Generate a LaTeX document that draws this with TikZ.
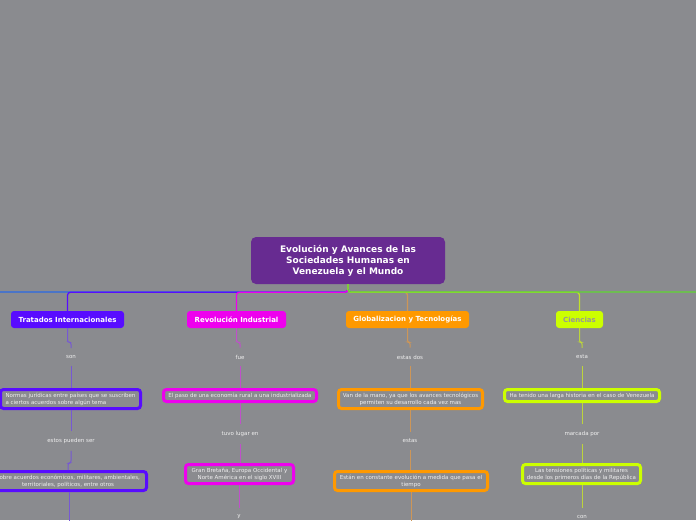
\documentclass[tikz,border=0pt]{standalone}
\usepackage{fontspec}
\setmainfont{DejaVu Sans}
\usetikzlibrary{calc}
\definecolor{bg}{RGB}{138,139,143}
\definecolor{cpurple}{RGB}{103,43,145}
\definecolor{cviolet}{RGB}{88,12,255}
\definecolor{cmag}{RGB}{238,0,238}
\definecolor{corange}{RGB}{255,153,0}
\definecolor{cyel}{RGB}{204,255,0}
\definecolor{cblue}{RGB}{40,105,230}
\definecolor{cgreen}{RGB}{95,215,50}
\definecolor{lviolet}{RGB}{118,88,212}
\definecolor{lmag}{RGB}{192,80,202}
\definecolor{lorange}{RGB}{205,150,88}
\definecolor{lyel}{RGB}{188,212,60}
\definecolor{ctxt}{RGB}{240,240,240}
\definecolor{cgraytxt}{RGB}{150,150,152}
\begin{document}
\begin{tikzpicture}[x=1pt,y=-1pt,
  central/.style={fill=cpurple, rounded corners=5pt, text=white, font=\bfseries\fontsize{9}{11}\selectfont, align=center, minimum width=194pt, minimum height=47pt, inner sep=0pt},
  topic/.style={rounded corners=3pt, text=white, font=\bfseries\fontsize{7}{8}\selectfont, minimum height=17pt, inner sep=0pt},
  sub/.style={draw, line width=3pt, rounded corners=3pt, fill=bg, text=ctxt, font=\fontsize{5.5}{7}\selectfont, align=center, inner sep=0pt},
  lbl/.style={text=ctxt, font=\fontsize{5.5}{7}\selectfont, inner xsep=2pt, inner ysep=7pt},
  hline/.style={line width=1.3pt, rounded corners=3pt},
  conn/.style={line width=1pt, rounded corners=2pt}
]
\fill[bg] (0,0) rectangle (696,520);
\useasboundingbox (0,0) rectangle (696,520);

% central node
\node[central] (c) at (348,260.5) {Evolución y Avances de las\\Sociedades Humanas en\\ Venezuela y el Mundo};

% topics
\node[topic, fill=cviolet, minimum width=113pt] (trat) at (67.5,319.5) {Tratados Internacionales};
\node[topic, fill=cmag, minimum width=99pt] (rev) at (236.5,319.5) {Revolución Industrial};
\node[topic, fill=corange, minimum width=123pt] (glob) at (407.5,319.5) {Globalizacion y Tecnologías};
\node[topic, fill=cyel, text=cgraytxt, minimum width=47pt] (cien) at (579.5,319.5) {Ciencias};

\coordinate (offL) at (-10,292);
\coordinate (offR) at (706,292);

% main branch lines
\draw[hline, cblue] (c.south) |- (offL);
\draw[hline, cviolet] (c.south) -- ++(0,8) -| (trat.north);
\draw[hline, cmag] (c.south) -- ++(0,8) -| (rev.north);
\draw[hline, lorange] (c.south) -- ++(0,8) -| (glob.north);
\draw[hline, lyel!70!cyel] (c.south) -- ++(0,8) -| (cien.north);
\draw[hline, cgreen] (c.south) |- (offR);

% level labels 1
\node[lbl] (son) at (71,357) {son};
\node[lbl] (fue) at (240,357) {fue};
\node[lbl] (dos) at (410,357) {estas dos};
\node[lbl] (esta) at (582,357) {esta};

% level 2 boxes
\node[sub, draw=cviolet, align=left, minimum width=140pt, minimum height=19pt] (normas) at (70.5,399) {Normas jurídicas entre países que se suscriben\\a ciertos acuerdos sobre algún tema};
\node[sub, draw=cmag, minimum width=153pt, minimum height=12pt] (paso) at (240,395.5) {El paso de una economía rural a una industrializada};
\node[sub, draw=corange, minimum width=144pt, minimum height=19pt] (van) at (410.5,399) {Van de la mano, ya que los avances tecnológicos\\permiten su desarrollo cada vez mas};
\node[sub, draw=cyel, minimum width=155pt, minimum height=12pt] (ha) at (582,395.5) {Ha tenido una larga historia en el caso de Venezuela};

% level labels 2
\node[lbl] (estos) at (71,441) {estos pueden ser};
\node[lbl] (tuvo) at (240,434) {tuvo lugar en};
\node[lbl] (estas) at (410,441) {estas};
\node[lbl] (marc) at (582,434) {marcada por};

% level 3 boxes
\node[sub, draw=cviolet, minimum width=157pt, minimum height=19pt] (sobre) at (68,481) {Sobre acuerdos económicos, militares, ambientales,\\territoriales, políticos, entre otros};
\node[sub, draw=cmag, minimum width=108pt, minimum height=19pt] (gran) at (239.5,474) {Gran Bretaña, Europa Occidental y\\Norte América en el siglo XVIII};
\node[sub, draw=corange, minimum width=153pt, minimum height=19pt] (estan) at (411,481) {Están en constante evolución a medida que pasa el\\tiempo};
\node[sub, draw=cyel, minimum width=118pt, minimum height=19pt] (tens) at (581.5,474) {Las tensiones políticas y militares\\desde los primeros días de la República};

% level labels 3
\node[lbl] (y) at (239,517) {y};
\node[lbl] (con) at (582,517) {con};

\coordinate (endA) at (69,530);
\coordinate (endB) at (411,530);

% Tratados branch
\draw[conn, lviolet] (trat.south) -- ++(0,14) -| (son.north);
\draw[conn, lviolet] (son.south) -- (son.south |- normas.north);
\draw[conn, lviolet] (normas.south -| estos.north) -- (estos.north);
\draw[conn, lviolet] (estos.south) |- ($(sobre.north)+(0,-7)$) -- (sobre.north);
\draw[conn, lviolet] (sobre.south -| endA) -- (endA);

% Revolucion branch
\draw[conn, lmag] (rev.south) -- ++(0,14) -| (fue.north);
\draw[conn, lmag] (fue.south) -- (fue.south |- paso.north);
\draw[conn, lmag] (paso.south -| tuvo.north) -- (tuvo.north);
\draw[conn, lmag] (tuvo.south) -- (tuvo.south |- gran.north);
\draw[conn, lmag] (gran.south -| y.north) -- (y.north);

% Globalizacion branch
\draw[conn, lorange] (glob.south) -- ++(0,14) -| (dos.north);
\draw[conn, lorange] (dos.south) -- (dos.south |- van.north);
\draw[conn, lorange] (van.south -| estas.north) -- (estas.north);
\draw[conn, lorange] (estas.south) -- (estas.south |- estan.north);
\draw[conn, lorange] (estan.south -| endB) -- (endB);

% Ciencias branch
\draw[conn, lyel] (cien.south) -- ++(0,14) -| (esta.north);
\draw[conn, lyel] (esta.south) -- (esta.south |- ha.north);
\draw[conn, lyel] (ha.south -| marc.north) -- (marc.north);
\draw[conn, lyel] (marc.south) -- (marc.south |- tens.north);
\draw[conn, lyel] (tens.south -| con.north) -- (con.north);
\end{tikzpicture}
\end{document}
